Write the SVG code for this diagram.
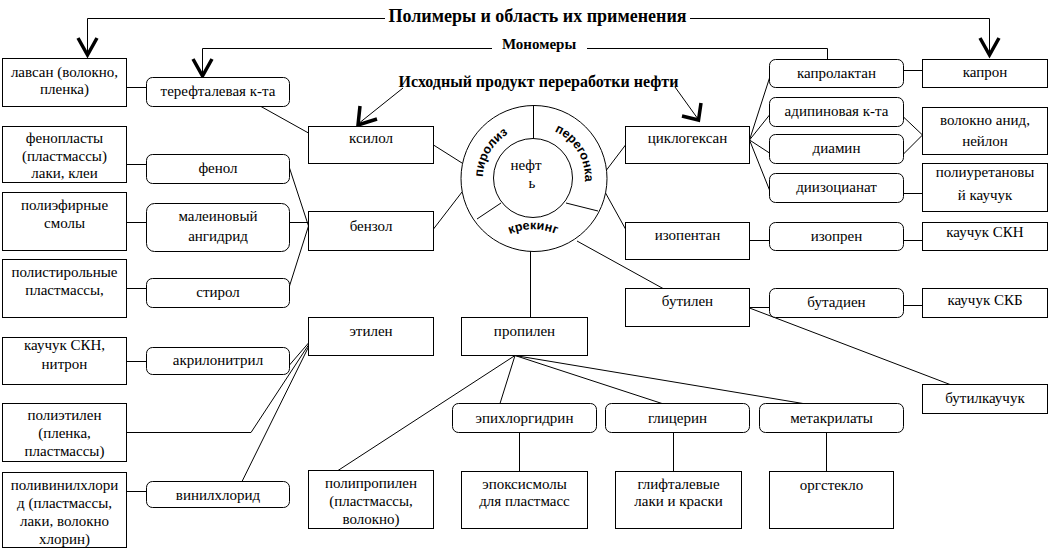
<svg xmlns="http://www.w3.org/2000/svg" width="1048" height="549" viewBox="0 0 1048 549">
<style>
.b{fill:#fff;stroke:#000;stroke-width:1}
.t{font-size:15px;text-anchor:middle;fill:#000}
.h{font-weight:bold;text-anchor:middle;fill:#000}
.r{font-family:'Liberation Sans',Arial,sans-serif;font-weight:bold;font-size:12.5px;fill:#000}
.c line,.c polyline{stroke:#000;stroke-width:1;fill:none}
.c .a{stroke-width:3.5;stroke-linejoin:miter}
</style>
<defs>
<path id="ring" d="M 483 178 A 51 51 0 1 1 585 178 A 51 51 0 1 1 483 178"/>
<path id="kr" d="M 502 238 A 60 60 0 0 1 564 238"/>
</defs>
<rect width="1048" height="549" fill="#fff"/>

<g id="connectors" class="c">
<polyline points="87.5,54 87.5,18.5 385,18.5"/>
<polyline points="690,18.5 989.5,18.5 989.5,54"/>
<polyline class="a" points="78,38 87.5,55 97,38"/>
<polyline class="a" points="980,38 989.5,55 999,38"/>
<polyline points="202.5,75 202.5,48.5 492,48.5"/>
<polyline points="587,48.5 827.5,48.5 827.5,59.5"/>
<polyline class="a" points="193,59 202.5,76 212,59"/>
<line x1="403" y1="88" x2="358" y2="124"/>
<polyline class="a" points="360,106 358,125 377,119"/>
<line x1="675" y1="87" x2="698" y2="119"/>
<polyline class="a" points="682,116 698.5,120 701,103"/>
<line x1="126.5" y1="87.5" x2="146.5" y2="87.5"/>
<line x1="126.5" y1="164.5" x2="146.5" y2="164.5"/>
<line x1="261" y1="106.5" x2="308.5" y2="133"/>
<line x1="126.5" y1="222.5" x2="146.5" y2="222.5"/>
<line x1="289.5" y1="222.5" x2="308.5" y2="222.5"/>
<line x1="289.5" y1="168" x2="308.5" y2="226"/>
<line x1="126.5" y1="288.5" x2="146.5" y2="288.5"/>
<line x1="289.5" y1="286" x2="308.5" y2="226"/>
<line x1="433.5" y1="145" x2="462" y2="163"/>
<line x1="433.5" y1="229" x2="462" y2="192"/>
<line x1="605" y1="172" x2="625.5" y2="145"/>
<line x1="605" y1="192" x2="625.5" y2="229"/>
<line x1="530.5" y1="251" x2="530.5" y2="317.5"/>
<line x1="577" y1="241" x2="663" y2="288.5"/>
<line x1="749.5" y1="140" x2="769.5" y2="78"/>
<line x1="749.5" y1="140" x2="769.5" y2="115"/>
<line x1="749.5" y1="140" x2="769.5" y2="153"/>
<line x1="749.5" y1="140" x2="769.5" y2="190"/>
<line x1="903.5" y1="70.5" x2="922.5" y2="70.5"/>
<line x1="903.5" y1="117" x2="922.5" y2="135"/>
<line x1="903.5" y1="154" x2="922.5" y2="135"/>
<line x1="903.5" y1="193.5" x2="922.5" y2="193.5"/>
<line x1="749.5" y1="240.5" x2="769.5" y2="240.5"/>
<line x1="903.5" y1="240.5" x2="922.5" y2="240.5"/>
<line x1="749.5" y1="307.5" x2="769.5" y2="307.5"/>
<line x1="903.5" y1="305.5" x2="922.5" y2="305.5"/>
<line x1="749.5" y1="308" x2="950" y2="384.5"/>
<line x1="515" y1="355.5" x2="338" y2="470.5"/>
<line x1="515" y1="355.5" x2="500" y2="403.5"/>
<line x1="515" y1="355.5" x2="662" y2="403.5"/>
<line x1="515" y1="355.5" x2="803" y2="403.5"/>
<line x1="519.5" y1="432.5" x2="519.5" y2="471.5"/>
<line x1="673.5" y1="432.5" x2="673.5" y2="471.5"/>
<line x1="826.5" y1="432.5" x2="826.5" y2="471.5"/>
<line x1="126.5" y1="361.5" x2="146.5" y2="361.5"/>
<line x1="289.5" y1="365" x2="308.5" y2="343"/>
<polyline points="126.5,432.5 251,432.5 308.5,345"/>
<line x1="126.5" y1="491.5" x2="146.5" y2="491.5"/>
<line x1="242" y1="481.5" x2="308.5" y2="347"/>
</g>

<g font-family="Liberation Serif, Times New Roman, DejaVu Serif, serif">
<g id="titles">
<text class="h" x="537.5" y="22" font-size="18">Полимеры и область их применения</text>
<text class="h" x="539" y="49" font-size="15">Мономеры</text>
<text class="h" x="538.5" y="87" font-size="16">Исходный продукт переработки нефти</text>
</g>

<g id="oil">
<circle cx="534" cy="178.5" r="73" fill="#fff" stroke="#000"/>
<circle cx="533" cy="178" r="39.5" fill="#fff" stroke="#000"/>
<line x1="533.5" y1="105.5" x2="533.5" y2="138.5" stroke="#000"/>
<line x1="477" y1="219" x2="501" y2="203" stroke="#000"/>
<line x1="566" y1="203" x2="598" y2="211" stroke="#000"/>
<text class="r"><textPath href="#ring" startOffset="1">пиролиз</textPath></text>
<text class="r"><textPath href="#ring" startOffset="101">перегонка</textPath></text>
<text class="r" text-anchor="middle"><textPath href="#kr" startOffset="50%">крекинг</textPath></text>
<text class="t" x="526" y="170">нефт</text>
<text class="t" x="532" y="188">ь</text>
</g>

<g id="n_lavsan"><rect class="b" x="2.5" y="58.5" width="124" height="48"/><text class="t" x="64.5" y="77">лавсан (волокно,</text><text class="t" x="64.5" y="94">пленка)</text></g>
<g id="n_fenoplast"><rect class="b" x="2.5" y="126.5" width="124" height="56"/><text class="t" x="64.5" y="143">фенопласты</text><text class="t" x="64.5" y="161">(пластмассы)</text><text class="t" x="64.5" y="178">лаки, клеи</text></g>
<g id="n_polyester"><rect class="b" x="2.5" y="192.5" width="124" height="58"/><text class="t" x="64.5" y="210">полиэфирные</text><text class="t" x="64.5" y="228">смолы</text></g>
<g id="n_polystyrene"><rect class="b" x="2.5" y="259.5" width="124" height="58"/><text class="t" x="64.5" y="277">полистирольные</text><text class="t" x="64.5" y="295">пластмассы,</text></g>
<g id="n_skn_nitron"><rect class="b" x="2.5" y="337.5" width="124" height="47"/><text class="t" x="64.5" y="350">каучук СКН,</text><text class="t" x="64.5" y="369">нитрон</text></g>
<g id="n_polyethylene"><rect class="b" x="2.5" y="403.5" width="124" height="58"/><text class="t" x="64.5" y="420">полиэтилен</text><text class="t" x="64.5" y="438">(пленка,</text><text class="t" x="64.5" y="456">пластмассы)</text></g>
<g id="n_pvc"><rect class="b" x="2.5" y="472.5" width="124" height="75"/><text class="t" x="64.5" y="490">поливинилхлори</text><text class="t" x="64.5" y="508">д (пластмассы,</text><text class="t" x="64.5" y="526">лаки, волокно</text><text class="t" x="64.5" y="544">хлорин)</text></g>

<g id="n_tereft"><rect class="b" x="146.5" y="77.5" width="143" height="29" rx="6"/><text class="t" x="218" y="96">терефталевая к-та</text></g>
<g id="n_fenol"><rect class="b" x="146.5" y="154.5" width="143" height="29" rx="6"/><text class="t" x="218" y="173">фенол</text></g>
<g id="n_malein"><rect class="b" x="146.5" y="203.5" width="143" height="48" rx="8"/><text class="t" x="218" y="221">малеиновый</text><text class="t" x="218" y="241">ангидрид</text></g>
<g id="n_styrol"><rect class="b" x="146.5" y="278.5" width="143" height="29" rx="6"/><text class="t" x="218" y="297">стирол</text></g>
<g id="n_akril"><rect class="b" x="146.5" y="347.5" width="143" height="27" rx="6"/><text class="t" x="218" y="365">акрилонитрил</text></g>
<g id="n_vinyl"><rect class="b" x="146.5" y="481.5" width="143" height="26" rx="6"/><text class="t" x="218" y="500">винилхлорид</text></g>

<g id="n_ksilol"><rect class="b" x="308.5" y="126.5" width="125" height="37"/><text class="t" x="371" y="143">ксилол</text></g>
<g id="n_benzol"><rect class="b" x="308.5" y="211.5" width="125" height="39"/><text class="t" x="371" y="231">бензол</text></g>
<g id="n_etilen"><rect class="b" x="308.5" y="317.5" width="125" height="38"/><text class="t" x="371" y="336">этилен</text></g>
<g id="n_polyprop"><rect class="b" x="308.5" y="470.5" width="125" height="58"/><text class="t" x="371" y="488">полипропилен</text><text class="t" x="371" y="506">(пластмассы,</text><text class="t" x="371" y="524">волокно)</text></g>

<g id="n_propilen"><rect class="b" x="461.5" y="317.5" width="126" height="38"/><text class="t" x="524.5" y="336">пропилен</text></g>
<g id="n_epichlor"><rect class="b" x="452.5" y="403.5" width="144" height="29" rx="6"/><text class="t" x="524.5" y="423">эпихлоргидрин</text></g>
<g id="n_glycerin"><rect class="b" x="605.5" y="403.5" width="144" height="29" rx="6"/><text class="t" x="677.5" y="423">глицерин</text></g>
<g id="n_metakril"><rect class="b" x="759.5" y="403.5" width="144" height="29" rx="6"/><text class="t" x="831.5" y="423">метакрилаты</text></g>
<g id="n_epoxy"><rect class="b" x="461.5" y="471.5" width="126" height="57"/><text class="t" x="524.5" y="489">эпоксисмолы</text><text class="t" x="524.5" y="506">для пластмасс</text></g>
<g id="n_glyftal"><rect class="b" x="615.5" y="471.5" width="126" height="57"/><text class="t" x="678.5" y="489">глифталевые</text><text class="t" x="678.5" y="506">лаки и краски</text></g>
<g id="n_orgsteklo"><rect class="b" x="769.5" y="471.5" width="124" height="57"/><text class="t" x="831.5" y="490">оргстекло</text></g>

<g id="n_cyclohex"><rect class="b" x="625.5" y="126.5" width="124" height="37"/><text class="t" x="687.5" y="143">циклогексан</text></g>
<g id="n_isopentan"><rect class="b" x="625.5" y="222.5" width="124" height="37"/><text class="t" x="687.5" y="240">изопентан</text></g>
<g id="n_butilen"><rect class="b" x="625.5" y="288.5" width="124" height="38"/><text class="t" x="687.5" y="306">бутилен</text></g>

<g id="n_kaprolakt"><rect class="b" x="769.5" y="59.5" width="134" height="28" rx="6"/><text class="t" x="836.5" y="78">капролактан</text></g>
<g id="n_adipin"><rect class="b" x="769.5" y="97.5" width="134" height="29" rx="6"/><text class="t" x="836.5" y="116">адипиновая к-та</text></g>
<g id="n_diamin"><rect class="b" x="769.5" y="134.5" width="134" height="29" rx="6"/><text class="t" x="836.5" y="153">диамин</text></g>
<g id="n_diisocyan"><rect class="b" x="769.5" y="173.5" width="134" height="29" rx="6"/><text class="t" x="836.5" y="192">диизоцианат</text></g>
<g id="n_isopren"><rect class="b" x="769.5" y="222.5" width="134" height="28" rx="6"/><text class="t" x="836.5" y="241">изопрен</text></g>
<g id="n_butadien"><rect class="b" x="769.5" y="288.5" width="134" height="29" rx="6"/><text class="t" x="836.5" y="307">бутадиен</text></g>

<g id="n_kapron"><rect class="b" x="922.5" y="59.5" width="125" height="28"/><text class="t" x="985" y="77">капрон</text></g>
<g id="n_nylon"><rect class="b" x="922.5" y="107.5" width="125" height="47"/><text class="t" x="985" y="125">волокно анид,</text><text class="t" x="985" y="146">нейлон</text></g>
<g id="n_polyuretan"><rect class="b" x="922.5" y="163.5" width="125" height="48"/><text class="t" x="985" y="177">полиуретановы</text><text class="t" x="985" y="200">й каучук</text></g>
<g id="n_skn"><rect class="b" x="922.5" y="222.5" width="125" height="28"/><text class="t" x="985" y="237">каучук СКН</text></g>
<g id="n_skb"><rect class="b" x="922.5" y="288.5" width="125" height="29"/><text class="t" x="985" y="305">каучук СКБ</text></g>
<g id="n_butilkauch"><rect class="b" x="922.5" y="384.5" width="125" height="29"/><text class="t" x="985" y="403">бутилкаучук</text></g>
</g>
</svg>
